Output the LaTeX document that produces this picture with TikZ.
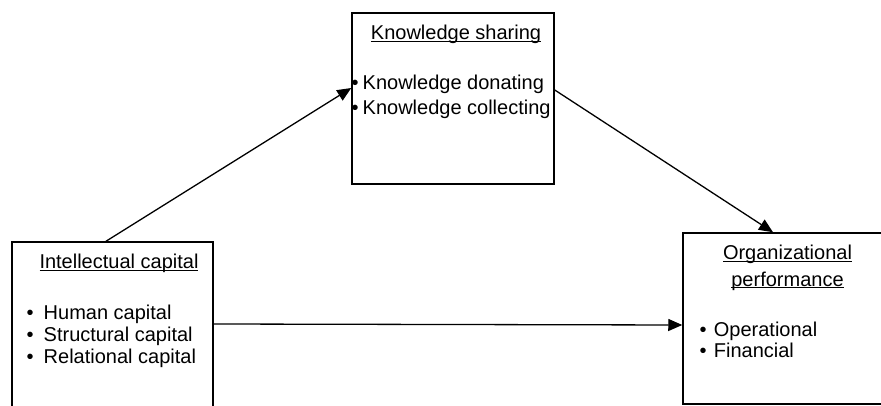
\documentclass[tikz,border=0pt]{standalone}
\usepackage{fontspec}
\setmainfont{Liberation Sans}
\usetikzlibrary{arrows.meta}
\tikzset{
    % Plain black frame round each construct
    construct box/.style={draw, rectangle, line width=1.5pt, inner sep=0},
%
    % Text set inside the frames
    construct text/.style={inner sep=0, font=\fontsize{20}{25}\selectfont},
%
    % Straight link with a heavy filled head
    link/.style={-{Triangle[length=14pt, width=12pt]}, line width=1.3pt}}
% Underline that sits just under the baseline
\newcommand{\heading}[1]{\underline{\smash{#1}}\vphantom{#1}}

\begin{document}
\begin{tikzpicture}[x=1pt, y=-1pt]

% Page size of the original, frames run off its edges
\clip (0,0) rectangle (881,406);

\node (ks) [construct box, minimum width=202pt, minimum height=171pt]
    at (453,98.5) {};
\node (ic) [construct box, minimum width=201pt, minimum height=178pt]
    at (112.5,331) {};
\node (op) [construct box, minimum width=212pt, minimum height=171pt]
    at (789,318.5) {};

\node (ks title) [construct text, anchor=base] at (456,40)
    {\heading{Knowledge sharing}};
\node (ic title) [construct text, anchor=base] at (119,269)
    {\heading{Intellectual capital}};
\node (op title) [construct text, anchor=north, align=center,
    font=\fontsize{20}{26.5}\selectfont] at (787.5,245)
    {\heading{Organizational}\\\heading{performance}};

\node (ks list) [construct text, anchor=north west, align=left] at (351.5,74.5)
    {\textbullet\hspace{0.2em}Knowledge donating\\
     \textbullet\hspace{0.2em}Knowledge collecting};
\node (ic list) [construct text, anchor=north west, align=left,
    font=\fontsize{20}{22}\selectfont] at (26.5,304.5)
    {\textbullet\hspace{0.5em}Human capital\\
     \textbullet\hspace{0.5em}Structural capital\\
     \textbullet\hspace{0.5em}Relational capital};
\node (op list) [construct text, anchor=north west, align=left,
    font=\fontsize{20}{21}\selectfont] at (699.5,321.5)
    {\textbullet\hspace{0.36em}Operational\\
     \textbullet\hspace{0.36em}Financial};

\draw [link] ([xshift=-6.5pt]ic.north) -- ([yshift=10.5pt]ks.west);
\draw [link] ([yshift=8.5pt]ks.east) -- ([xshift=-16pt]op.north);
\draw [link] ([yshift=7pt]ic.east) -- ([yshift=-6.5pt]op.west);

\end{tikzpicture}
\end{document}
